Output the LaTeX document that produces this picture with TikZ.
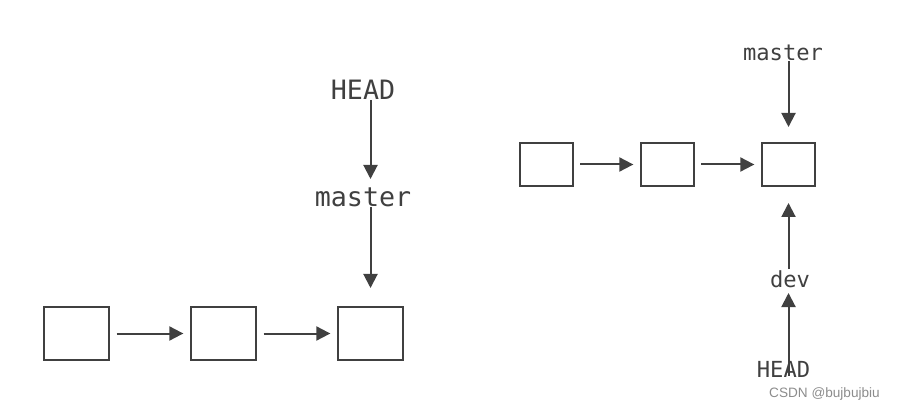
\documentclass[tikz,border=0pt]{standalone}
\usepackage{fontspec}
\setmonofont{DejaVu Sans Mono}
\setsansfont{Liberation Sans}
\usepackage{xcolor}
\usetikzlibrary{arrows.meta, positioning, calc}
\definecolor{ink}{HTML}{404040}

\begin{document}
\begin{tikzpicture}[x=0.75pt, y=-0.75pt, >={Triangle[length=10.5pt, width=10.5pt]}, line width=1.5pt, draw=ink]
    \tikzstyle{commit} = [rectangle, draw=ink, minimum width=48.75pt, minimum height=39.75pt, inner sep=0pt]
    \tikzstyle{small} = [rectangle, draw=ink, minimum width=39.75pt, minimum height=32.25pt, inner sep=0pt]
    \tikzstyle{ref} = [inner sep=0pt, anchor=base, text=ink, font=\ttfamily\fontsize{20}{24}\selectfont]
    \tikzstyle{sref} = [inner sep=0pt, anchor=base, text=ink, font=\ttfamily\fontsize{16.6}{20}\selectfont]
    \tikzstyle{arr} = [->, draw=ink, line width=1.5pt]

    \useasboundingbox (0,0) rectangle (898,409);

    % before: HEAD -> master
    \node [commit] at (76.5,333.5) (a1) {};
    \node [commit, right=60pt of a1] (a2) {};
    \node [commit, right=60pt of a2] (a3) {};
    \node [ref] at (363,100) (hl) {HEAD};
    \node [ref] at (363,207) (ml) {master};

    % after: HEAD -> dev
    \node [small] at (546.5,164.5) (b1) {};
    \node [small, right=49.5pt of b1] (b2) {};
    \node [small, right=49.5pt of b2] (b3) {};
    \node [sref] at (783,61) (mr) {master};
    \node [sref] at (790,287) (dr) {dev};
    \node [sref] at (783.5,377) (hr) {HEAD};

    % Connections
    \draw[arr] (a1.east) ++(5pt,0) -- ([xshift=-5pt]a2.west);
    \draw[arr] (a2.east) ++(5pt,0) -- ([xshift=-5pt]a3.west);
    \draw[arr, shorten >=21pt] (hl.base -| a3.north) -- (ml.base -| a3.north);
    \draw[arr, shorten >=13.5pt] (ml.base -| a3.north) -- (a3.north);

    \draw[arr] (b1.east) ++(4.5pt,0) -- ([xshift=-5pt]b2.west);
    \draw[arr] (b2.east) ++(4.5pt,0) -- ([xshift=-5pt]b3.west);
    \draw[arr, shorten >=11.25pt] (mr.base -| b3.north) -- (b3.north);
    \draw[arr, shorten >=12pt] (dr.north -| b3.south) -- (b3.south);
    \draw[arr, shorten >=4.5pt, shorten <=1pt] (hr.base -| b3.south) -- (dr.base -| b3.south);

    \node [text=black!45, font=\sffamily\fontsize{10.2}{12}\selectfont, anchor=base] at (824.5,397) (wm) {CSDN @bujbujbiu};
\end{tikzpicture}
\end{document}
